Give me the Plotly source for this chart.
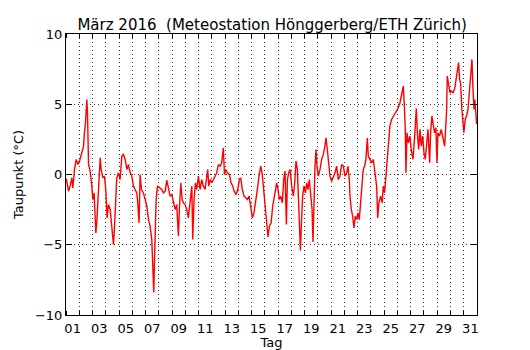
import plotly.graph_objects as go

# Time in days since 1 March 2016 00:00, dew point in °C
day = [
    0.02, 0.06, 0.19, 0.31, 0.44, 0.52, 0.64, 0.77, 0.89, 1.02,
    1.19, 1.32, 1.39, 1.47, 1.57, 1.62, 1.70, 1.82, 1.95, 2.02,
    2.12, 2.25, 2.32, 2.40, 2.47, 2.58, 2.65, 2.78, 2.90, 3.00,
    3.10, 3.20, 3.33, 3.45, 3.58, 3.65, 3.73, 3.83, 3.96, 4.08,
    4.21, 4.33, 4.46, 4.59, 4.71, 4.84, 4.96,
    5.09, 5.21, 5.34, 5.41, 5.51, 5.59, 5.69, 5.84, 5.96, 6.10,
    6.22, 6.34, 6.47, 6.55, 6.62, 6.67, 6.72, 6.80, 6.90, 7.05,
    7.22, 7.35, 7.48, 7.60, 7.73, 7.85, 7.98, 8.10, 8.23, 8.35,
    8.48, 8.55, 8.66, 8.76, 8.86, 8.98, 9.11, 9.23, 9.36, 9.49,
    9.56, 9.66, 9.76, 9.86, 9.99, 10.11, 10.24, 10.36,
    10.49, 10.62, 10.69, 10.77, 10.87, 11.00, 11.12, 11.24, 11.37, 11.49,
    11.62, 11.74, 11.87, 11.95, 12.05, 12.17, 12.32, 12.45, 12.58, 12.68,
    12.83, 12.95, 13.08, 13.18, 13.30, 13.43, 13.56, 13.68, 13.81, 13.93,
    14.06, 14.18, 14.31, 14.43, 14.56, 14.69, 14.79, 14.89, 15.01, 15.14,
    15.24, 15.34, 15.47, 15.59,
    15.64, 15.77, 15.89, 15.99, 16.09, 16.19, 16.32, 16.42, 16.52, 16.62,
    16.70, 16.80, 16.90, 17.02, 17.15, 17.25, 17.35, 17.45, 17.53, 17.60,
    17.68, 17.76, 17.85, 17.95, 18.05, 18.15, 18.25, 18.35, 18.46, 18.56,
    18.63, 18.71, 18.78, 18.86, 18.93, 19.03, 19.16, 19.28, 19.41, 19.53,
    19.61, 19.71, 19.81, 19.91, 20.04, 20.16, 20.29, 20.41, 20.54, 20.66,
    20.79,
    20.92, 21.04, 21.17, 21.27, 21.37, 21.42, 21.52, 21.62, 21.72, 21.82,
    21.92, 22.02, 22.12, 22.22, 22.32, 22.42, 22.52, 22.62, 22.73, 22.80,
    22.93, 23.05, 23.18, 23.30, 23.43, 23.51, 23.60, 23.73, 23.85, 23.93,
    24.03, 24.13, 24.23, 24.33, 24.43, 24.56, 24.69, 24.81, 24.94, 25.06,
    25.19, 25.31, 25.44, 25.52, 25.59, 25.64, 25.72, 25.82, 25.94,
    26.04, 26.17, 26.30, 26.42, 26.50, 26.60, 26.70, 26.80, 26.90, 27.00,
    27.10, 27.20, 27.30, 27.43, 27.50, 27.60, 27.70, 27.80, 27.90, 27.98,
    28.05, 28.18, 28.30, 28.43, 28.56, 28.63, 28.71, 28.76, 28.86, 28.96,
    29.06, 29.19, 29.31, 29.41, 29.51, 29.61, 29.69, 29.76, 29.86, 29.94,
    30.01, 30.11, 30.21, 30.32, 30.42, 30.52, 30.62, 30.69, 30.77, 30.84,
    30.90, 30.97,
]

dewpoint = [
    -0.30, -0.48, -1.19, -0.83, -0.24, -0.95, 0.36, 1.07, 0.71, 0.95,
    1.54, 2.00, 2.97, 3.68, 5.34, 4.39, 0.71, 0.24, -0.83, -1.78,
    -1.31, -4.16, -3.44, -2.02, -0.12, 1.19, 0.36, -0.24, -0.12, -1.07,
    -3.09, -2.14, -2.49, -3.92, -4.99, -3.92, -1.78, -0.24, 0.12, -0.36,
    1.31, 1.43, 1.07, 0.36, 0.71, 0.12, -0.12,
    -0.83, -1.07, -1.31, -2.02, -3.44, 0.00, -1.07, -1.31, -1.78, -2.26,
    -3.21, -3.68, -4.63, -6.53, -8.40, -6.29, -4.16, -1.78, -0.83, -0.95,
    -1.07, -1.31, -1.19, -0.40, -1.07, -1.54, -1.43, -2.02, -2.49, -2.14,
    -4.39, -2.49, -0.60, -1.78, -2.02, -2.14, -2.49, -3.09, -1.78, -0.83,
    -4.63, -1.78, -0.59, -1.07, -0.12, -1.07, -0.36, -0.83,
    -1.07, 0.12, 0.36, -0.83, -0.36, -0.59, -0.36, -0.24, 0.12, 0.71,
    0.59, 0.83, 1.90, 0.00, 0.36, 0.12, 0.00, -0.59, -0.83, -1.19,
    -1.43, -1.07, -0.36, -0.24, -1.07, -1.54, -1.66, -1.78, -1.54, -2.38,
    -3.09, -2.73, -2.02, -1.07, -0.12, 0.59, 0.12, -0.83, -2.02, -3.21,
    -4.45, -3.68, -3.44, -2.26,
    -2.02, -1.31, -0.59, -1.07, -1.78, -1.54, -2.02, -0.36, 0.24, -3.56,
    -0.36, 0.12, 0.36, -0.83, -1.54, -0.59, 0.95, 0.36, -1.78, -4.16,
    -5.40, -3.44, -1.54, -0.83, -1.31, -0.59, -1.07, -0.36, -1.54, -2.49,
    -4.80, -1.07, 0.59, 1.78, 0.59, -0.12, 0.36, 1.07, 1.43, 2.02,
    2.61, 1.78, 0.83, -0.12, -0.48, -0.24, 0.12, 0.59, -0.36, -0.12,
    0.71,
    0.59, -0.12, 0.12, 0.59, -0.36, -1.54, -2.49, -2.97, -3.80, -2.97,
    -3.21, -2.73, -3.21, -2.26, -0.83, 0.36, 0.59, 1.07, 2.60, 1.31,
    1.07, 0.83, 1.07, 0.12, -0.83, -3.09, -2.02, -1.54, -2.02, -0.83,
    -1.31, -0.12, 1.31, 2.49, 3.44, 3.92, 4.16, 4.39, 4.63, 4.75,
    5.11, 5.82, 6.29, 4.87, 3.21, 0.12, 2.97, 2.26, 2.73,
    1.78, 1.07, 2.73, 4.70, 2.97, 1.78, 3.21, 2.02, 2.73, 1.54,
    1.07, 2.02, 3.21, 0.83, 2.97, 4.16, 3.44, 2.97, 3.33, 0.83,
    2.97, 2.73, 3.21, 2.49, 2.02, 3.21, 4.63, 7.01, 6.53, 5.82,
    5.94, 5.82, 6.06, 6.77, 7.48, 7.96, 6.77, 6.53, 4.63, 3.44,
    2.97, 3.92, 4.16, 4.63, 6.06, 7.24, 8.19, 6.29, 4.63, 5.34,
    4.16, 3.60,
]

# Tick labels (centred at noon of every odd day)
xtick_vals = [d - 0.5 for d in range(1, 32, 2)]
xtick_text = [f"{d:02d}" for d in range(1, 32, 2)]
ytick_vals = [-10, -5, 0, 5, 10]
ytick_text = ["\u221210", "\u22125", "0", "5", "10"]

title_text = "März 2016  (Meteostation Hönggerberg/ETH Zürich)"

FONT = "DejaVu Sans, Verdana, sans-serif"
GRID = "1px,3px"

fig = go.Figure()
fig.add_trace(go.Scatter(
    x=day, y=dewpoint, mode="lines",
    line=dict(color="#ff0000", width=1.4),
    showlegend=False, hoverinfo="skip",
))

fig.update_layout(
    width=522, height=342,
    margin=dict(l=58, r=53, t=26, b=35, autoexpand=False),
    paper_bgcolor="white", plot_bgcolor="white",
    font=dict(family=FONT, size=13, color="black"),
    title=dict(text=title_text, x=0.506, xanchor="center", y=0.952, yanchor="middle",
               font=dict(family=FONT, size=15, color="black")),
)

fig.update_xaxes(
    range=[0, 31], tickmode="array", tickvals=xtick_vals, ticktext=xtick_text,
    ticks="", showgrid=False, zeroline=False,
    showline=True, linecolor="black", linewidth=1, mirror="ticks",
    tickfont=dict(size=13), ticklabelstandoff=1,
    minor=dict(tick0=0, dtick=1, ticks="inside", ticklen=4, tickcolor="black",
               tickwidth=1, showgrid=True, gridcolor="#333333", gridwidth=1,
               griddash=GRID),
    title=dict(text="Tag", font=dict(size=13), standoff=2),
)

fig.update_yaxes(
    range=[-10, 10], tickmode="array", tickvals=ytick_vals, ticktext=ytick_text,
    ticks="inside", ticklen=6, tickcolor="black", tickwidth=1,
    showgrid=True, gridcolor="#333333", gridwidth=1, griddash=GRID,
    zeroline=False, showline=True, linecolor="black", linewidth=1, mirror="ticks",
    tickfont=dict(size=13),
    title=dict(text="Taupunkt (°C)", font=dict(size=13), standoff=8),
)

fig.write_html("out.html")
